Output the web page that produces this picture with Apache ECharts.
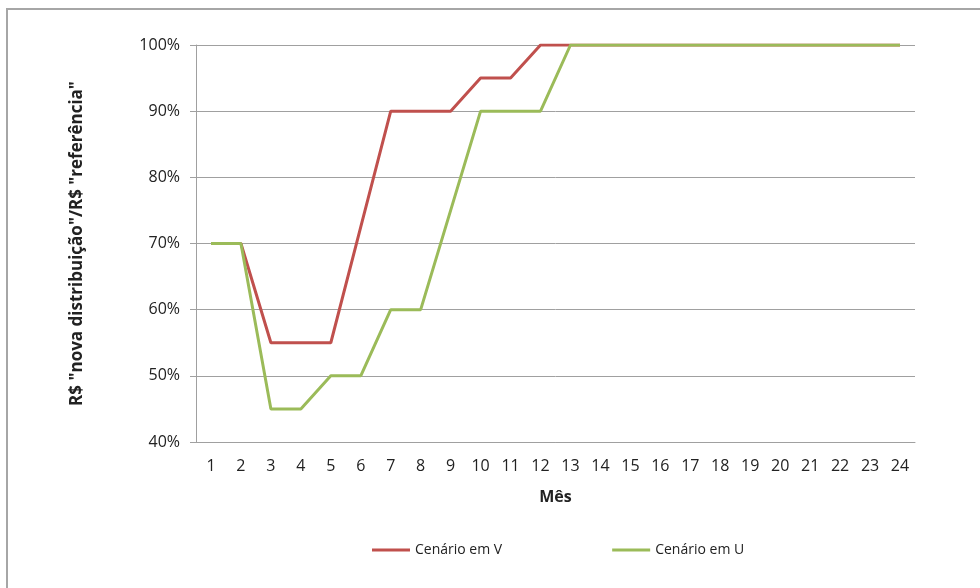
<!DOCTYPE html>
<html>
<head>
<meta charset="utf-8">
<script src="https://cdn.jsdelivr.net/npm/echarts@6/dist/echarts.min.js"></script>
<style>html,body{margin:0;padding:0;background:#fff}#c{width:980px;height:588px}</style>
</head>
<body>
<div id="c"></div>
<script>
var months = ['1','2','3','4','5','6','7','8','9','10','11','12','13','14','15','16','17','18','19','20','21','22','23','24'];
var cenarioV = [70,70,55,55,55,72.5,90,90,90,95,95,100,100,100,100,100,100,100,100,100,100,100,100,100];
var cenarioU = [70,70,45,45,50,50,60,60,75,90,90,90,100,100,100,100,100,100,100,100,100,100,100,100];
var seriesNames = ['Cenário em V','Cenário em U'];

var font = '"Open Sans", "Noto Sans", sans-serif';
var chart = echarts.init(document.getElementById('c'), null, {renderer:'canvas'});
chart.setOption({
  animation: false,
  backgroundColor: '#fff',
  graphic: [{
    type: 'rect', shape: {x: 7, y: 9, width: 1000, height: 600},
    style: {fill: 'none', stroke: '#a6a6a6', lineWidth: 2}, z: -1, silent: true
  }],
  grid: {left: 196, right: 65, top: 45, bottom: 146},
  legend: {
    data: seriesNames,
    top: 538,
    left: 367,
    itemWidth: 38, itemHeight: 3,
    itemGap: 110,
    icon: 'rect',
    textStyle: {fontFamily: font, fontSize: 14, color: '#222'}
  },
  xAxis: {
    type: 'category',
    data: months,
    boundaryGap: true,
    name: 'Mês',
    nameLocation: 'middle',
    nameGap: 47,
    nameTextStyle: {fontFamily: font, fontSize: 16, fontWeight: 'bold', color: '#222'},
    axisLine: {lineStyle: {color: '#a0a0a0', width: 1}},
    axisTick: {alignWithLabel: false, length: 5, lineStyle: {color: '#a0a0a0'}},
    axisLabel: {fontFamily: font, fontSize: 16, color: '#222', margin: 16}
  },
  yAxis: {
    type: 'value',
    min: 40, max: 100, interval: 10,
    name: 'R$ "nova distribuição"/R$ "referência"',
    nameLocation: 'middle',
    nameGap: 110,
    nameTextStyle: {fontFamily: font, fontSize: 17, fontWeight: 'bold', color: '#222'},
    axisLine: {show: true, lineStyle: {color: '#a0a0a0', width: 1}},
    axisTick: {show: true, length: 6, lineStyle: {color: '#a0a0a0'}},
    axisLabel: {fontFamily: font, fontSize: 16, color: '#222', margin: 16, formatter: '{value}%'},
    splitLine: {lineStyle: {color: '#a0a0a0', width: 1}}
  },
  series: [
    {name: seriesNames[0], type: 'line', data: cenarioV, showSymbol: false, symbol: 'none',
     lineStyle: {color: '#c0504d', width: 3}, itemStyle: {color: '#c0504d'}},
    {name: seriesNames[1], type: 'line', data: cenarioU, showSymbol: false, symbol: 'none',
     lineStyle: {color: '#9bbb59', width: 3}, itemStyle: {color: '#9bbb59'}}
  ]
});
</script>
</body>
</html>
